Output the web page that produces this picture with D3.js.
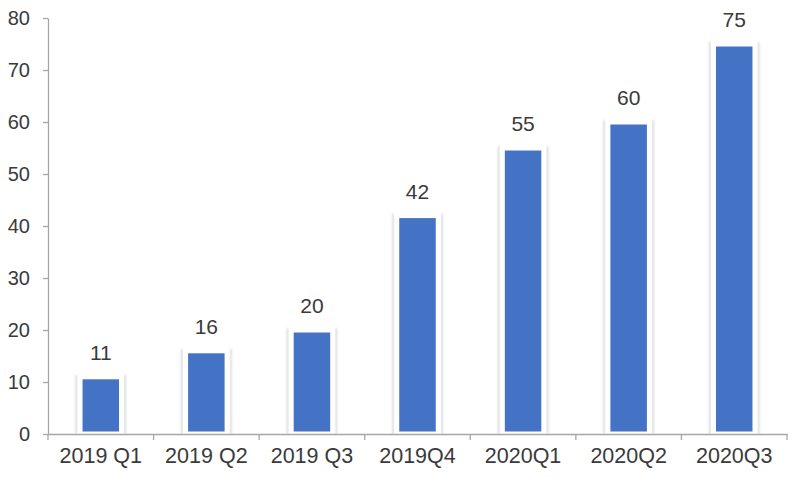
<!DOCTYPE html>
<html><head><meta charset="utf-8">
<script src="https://cdn.jsdelivr.net/npm/d3@7"></script>
<style>body{margin:0;background:#fff}svg{display:block}</style>
</head><body>
<script>
const categories = ["2019 Q1","2019 Q2","2019 Q3","2019Q4","2020Q1","2020Q2","2020Q3"];
const values = [11,16,20,42,55,60,75];
const yTicks = [0,10,20,30,40,50,60,70,80];

const W=800,H=478;
const m={left:48,right:13,top:18,bottom:44};
const svg=d3.select("body").append("svg").attr("width",W).attr("height",H);
const defs=svg.append("defs");
const f=defs.append("filter").attr("id","glow").attr("x","-30%").attr("y","-30%").attr("width","160%").attr("height","160%");
f.append("feGaussianBlur").attr("stdDeviation",1);

const x=d3.scaleBand().domain(categories).range([m.left,W-m.right]).paddingInner(0).paddingOuter(0);
const y=d3.scaleLinear().domain([0,80]).range([H-m.bottom,m.top]);
const font="'Liberation Sans', Arial, sans-serif";
const bw=41.5;
const cx=i=>x(categories[i])+x.bandwidth()/2;

// soft side glow behind bars
const glow=svg.append("g").attr("filter","url(#glow)");
[-1,1].forEach(s=>{
  glow.append("g").selectAll("line").data(values).join("line")
    .attr("x1",(d,i)=>cx(i)+s*(bw/2+3.5)).attr("x2",(d,i)=>cx(i)+s*(bw/2+3.5))
    .attr("y1",d=>y(d)-2).attr("y2",y(0))
    .attr("stroke","#d4d4d4").attr("stroke-width",1.8);
});

svg.append("g").selectAll("rect").data(values).join("rect")
  .attr("x",(d,i)=>cx(i)-bw/2)
  .attr("y",d=>y(d))
  .attr("width",bw)
  .attr("height",d=>y(0)-y(d))
  .attr("fill","#4472C4").attr("stroke","#fff").attr("stroke-width",5);

// y axis
const ya=svg.append("g").attr("transform",`translate(${m.left},0)`)
  .call(d3.axisLeft(y).tickValues(yTicks).tickSize(5).tickPadding(13).tickSizeOuter(0));
ya.select(".domain").attr("stroke","#a6a6a6").attr("stroke-width",1.3);
ya.selectAll(".tick line").attr("stroke","#a6a6a6").attr("stroke-width",1.3);
ya.selectAll("text").attr("font-family",font).attr("font-size",20).attr("fill","#3a3a3a");

// x axis
const xa=svg.append("g").attr("transform",`translate(0,${y(0)})`)
  .call(d3.axisBottom(x).tickSize(0).tickPadding(14));
xa.select(".domain").attr("stroke","#a6a6a6").attr("stroke-width",1.3);
xa.selectAll("text").attr("font-family",font).attr("font-size",21.5).attr("fill","#3a3a3a");
const bounds=categories.map(c=>x(c)).concat([x(categories[categories.length-1])+x.bandwidth()]);
xa.selectAll(".bt").data(bounds).join("line").attr("class","bt")
  .attr("x1",d=>d).attr("x2",d=>d).attr("y1",0).attr("y2",6)
  .attr("stroke","#a6a6a6").attr("stroke-width",1.3);

// data labels
svg.append("g").selectAll("text").data(values).join("text")
  .attr("x",(d,i)=>cx(i))
  .attr("y",d=>y(d)-17)
  .attr("text-anchor","middle")
  .attr("font-family",font).attr("font-size",21).attr("fill","#3a3a3a")
  .text(d=>d);
</script>
</body></html>
